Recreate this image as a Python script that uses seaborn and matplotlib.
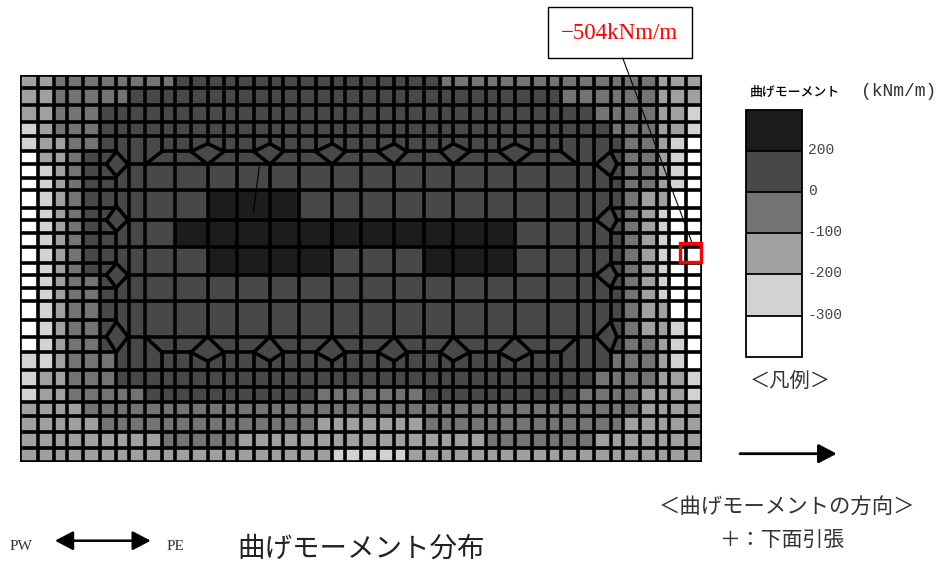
import numpy as np
import matplotlib
matplotlib.use("Agg")
import matplotlib.pyplot as plt
from matplotlib.colors import BoundaryNorm, ListedColormap
from matplotlib.patches import Rectangle
from matplotlib.transforms import ScaledTranslation
import seaborn as sns

W, H = 952, 565
JP = ["Noto Sans CJK JP", "DejaVu Sans"]
LATIN = "Liberation Mono"
MESH_LW = 2.6

# legend classes of the bending moment (kNm/m)
BOUNDS = [-400, -300, -200, -100, 0, 200, 400]
BAND_VALUES = [-350, -250, -150, -50, 100, 300]
BAND_COLORS = ["#ffffff", "#d2d2d2", "#a0a0a0", "#737373", "#484848", "#1c1c1c"]
LEGEND_TICKS = [-300, -200, -100, 0, 200]

# element edges of the slab mesh, read in pixels from the drawing
X_EDGES = [20, 37.7, 54.3, 67.3, 83, 99.7, 116.3, 129.3, 145.3, 162, 175.3, 191, 207.7, 224,
           237.3, 253.7, 270, 283.3, 299, 315.7, 332.3, 345.3, 361, 377.7, 394.3, 407, 423.7,
           440.3, 453.3, 469.7, 486, 498.7, 515, 531.7, 548.3, 561, 577.7, 594.3, 610.7,
           623.3, 640, 656.7, 669.3, 685.7, 702.3]
Y_EDGES = [75, 88.3, 105, 121.7, 135.7, 151.5, 164.3, 177.7, 190.3, 207.7, 220, 233.3, 246.7,
           263.3, 275, 288.3, 301, 320, 336.7, 352.3, 370, 386.7, 402.3, 415.7, 431.7, 448.3,
           461.7]

# class index of each element, one string per row, blocks of ten columns
ROW_BANDS = [
    "2233333333 4444444444 4444444333 3333333333 3222",
    "2233333444 4444444444 4444444444 4444433333 3222",
    "2233344444 4444444444 4444444444 4444444333 3221",
    "1233344444 4444444444 4444444444 4444444433 3221",
    "1223344444 4444444444 4444444444 4444444443 3210",
    "0223444444 4444444444 4444444444 4444444443 3210",
    "0123444444 4444444444 4444444444 4444444443 3210",
    "0123444444 4444444444 4444444444 4444444443 3210",
    "0123444444 4455555544 4444444444 4444444443 2200",
    "0123444444 4455555544 4444444444 4444444443 2100",
    "0123444444 5555555555 5555555555 5544444443 2100",
    "0123444444 5555555555 5555555555 5544444443 2100",
    "0123444444 4455555555 4444445555 5544444443 2100",
    "0123444444 4455555555 4444445555 5544444443 2100",
    "0123344444 4444444444 4444444444 4444444443 2100",
    "0123344444 4444444444 4444444444 4444444443 2100",
    "0123344444 4444444444 4444444444 4444444443 2200",
    "0123344444 4444444444 4444444444 4444444443 2210",
    "0123344444 4444444444 4444444444 4444444443 3210",
    "1123334444 4444444444 4444444444 4444444433 3210",
    "1223334444 4444444444 4444444444 4444444333 3221",
    "1223333344 4444444443 3333334444 4444443333 2221",
    "2222333333 3333333333 3333333333 3333333333 2222",
    "2222233333 3333333332 2222223333 3333333332 2222",
    "2222222223 3333222222 2222222222 3333333222 2222",
    "2222222222 2222222222 1111122222 2222222222 2222",
]

moments = np.array([[BAND_VALUES[int(c)] for c in row.replace(" ", "")] for row in ROW_BANDS])

# mesh lines, in element indices
FULL_COLS = [0, 1, 2, 3, 4, 5, 7, 8, 10, 14, 18, 22, 26, 30, 34, 36, 37, 39, 40, 41, 42, 43, 44]
BAND_COLS = [9, 11, 13, 15, 17, 19, 21, 23, 25, 27, 29, 31, 33, 35]
APEX_COLS = [12, 16, 20, 24, 28, 32]
EDGE_COLS = [6, 38]
EDGE_SPANS = [(0, 5), (6.9, 8.9), (10.85, 13), (14.95, 17.1), (19, 26)]
FULL_ROWS = [0, 1, 2, 3, 4, 8, 12, 16, 20, 21, 22, 23, 24, 25, 26]
SIDE_ROWS = [7, 9, 11, 13, 15, 17]
NODE_ROWS = [6, 10, 14, 18]
SIDE_DIAMONDS = [(5, 6, 6.9), (8.9, 10, 10.85), (13, 14, 14.95), (17.1, 18, 19)]
BAND_SPANS = [(9, 11), (13, 15), (17, 19), (21, 23), (25, 27), (29, 31), (33, 35)]

sns.set_theme(style="white")
plt.rcParams["font.family"] = JP
plt.rcParams["axes.unicode_minus"] = False

fig = plt.figure(figsize=(W / 100, H / 100), dpi=100, facecolor="white")
ax = fig.add_axes([X_EDGES[0] / W, 1 - Y_EDGES[-1] / H,
                   (X_EDGES[-1] - X_EDGES[0]) / W, (Y_EDGES[-1] - Y_EDGES[0]) / H])
cax = fig.add_axes([745.7 / W, 1 - 356.7 / H, 56.6 / W, 246.7 / H])

sns.heatmap(moments, ax=ax, cbar_ax=cax, cmap=ListedColormap(BAND_COLORS),
            norm=BoundaryNorm(BOUNDS, len(BAND_COLORS)), xticklabels=False, yticklabels=False,
            cbar_kws={"ticks": LEGEND_TICKS, "drawedges": True})

# the mesh is not uniform: stretch the index axes onto the element edges
col_idx = np.arange(len(X_EDGES))
row_idx = np.arange(len(Y_EDGES))
ax.set_xscale("function", functions=(lambda v: np.interp(v, col_idx, X_EDGES),
                                     lambda v: np.interp(v, X_EDGES, col_idx)))
ax.set_yscale("function", functions=(lambda v: np.interp(v, row_idx, Y_EDGES),
                                     lambda v: np.interp(v, Y_EDGES, row_idx)))
ax.set_xlim(0, 44)
ax.set_ylim(26, 0)
ax.set_xticks([])
ax.set_yticks([])
ax.minorticks_off()

LINE = dict(color="black", linewidth=MESH_LW, capstyle="projecting", zorder=3)


def vline(col, r0, r1):
    ax.vlines(col, r0, r1, **LINE)


def hline(row, c0, c1):
    ax.hlines(row, c0, c1, **LINE)


def poly(cols, rows):
    ax.plot(cols, rows, color="black", linewidth=MESH_LW, solid_capstyle="round",
            solid_joinstyle="miter", zorder=3)


for c in FULL_COLS:
    vline(c, 0, 26)
for c in BAND_COLS:
    vline(c, 0, 5)
    vline(c, 19, 26)
for c in APEX_COLS:
    vline(c, 0, 4.5)
    vline(c, 6, 18)
    vline(c, 19.5, 26)
for c in EDGE_COLS:
    for r0, r1 in EDGE_SPANS:
        vline(c, r0, r1)

for r in FULL_ROWS:
    hline(r, 0, 44)
for r in SIDE_ROWS:
    hline(r, 0, 6)
    hline(r, 38, 44)
for r in NODE_ROWS:
    hline(r, 0, 5.4)
    hline(r, 6.9, 37.1)
    hline(r, 38.5, 44)
for r in [5, 19]:
    hline(r, 0, 6)
    hline(r, 38, 44)
    for c0, c1 in BAND_SPANS:
        hline(r, c0, c1)

# diamonds round the column heads and the corner haunches
for top, mid, bot in SIDE_DIAMONDS:
    poly([6, 6.9, 6, 5.4, 6], [top, mid, bot, mid, top])
    poly([38, 38.5, 38, 37.1, 38], [top, mid, bot, mid, top])
for c in APEX_COLS:
    poly([c - 1, c, c + 1, c, c - 1], [5, 4.5, 5, 6, 5])
    poly([c - 1, c, c + 1, c, c - 1], [19, 18, 19, 19.5, 19])
poly([9, 8], [5, 6])
poly([35, 36], [5, 6])
poly([8, 9], [18, 19])
poly([36, 35], [18, 19])

# element with the peak value
ax.add_patch(Rectangle((42.63, 11.75), 1.3, 1.2, fill=False, edgecolor="#ff0000", linewidth=2.4,
                       zorder=4, clip_on=False))

# colour legend
cbar = ax.collections[0].colorbar
cbar.outline.set_linewidth(1.3)
cbar.outline.set_edgecolor("black")
cbar.dividers.set_color("black")
cbar.dividers.set_linewidth(1.3)
cbar.ax.tick_params(length=0, pad=4, labelsize=10.5, labelcolor="#444444")
cbar.ax.set_yticklabels([str(t) for t in LEGEND_TICKS], family=LATIN)
cbar.ax.minorticks_off()
lift = ScaledTranslation(0, 2.5 / 100, fig.dpi_scale_trans)
for tick_label in cbar.ax.get_yticklabels():
    tick_label.set_transform(tick_label.get_transform() + lift)

# texts and arrows are placed in page pixels
page = fig.add_axes([0, 0, 1, 1], facecolor="none", zorder=5)
page.set_xlim(0, W)
page.set_ylim(H, 0)
page.axis("off")

page.plot([622.7, 691.7], [58, 242], color="black", linewidth=0.8)
page.plot([259.3, 253.3], [166.7, 213.3], color="black", linewidth=0.8)
page.add_patch(Rectangle((547.7, 7.3), 144, 50.4, facecolor="white", edgecolor="black", linewidth=1))
page.text(619.5, 33.5, "−504kNm/m", color="#ff0000", fontsize=16.5, family="Liberation Serif",
          ha="center", va="center")

page.text(750, 92, "曲げモーメント", fontsize=9.3, color="black", ha="left", va="center",
          fontweight="medium")
page.text(861, 91.5, "(kNm/m)", fontsize=13, color="#333333", family=LATIN, ha="left", va="center")
page.text(790, 381, "\uff1c凡例\uff1e", fontsize=14.6, color="#333333", ha="center", va="center")

ARROW = dict(color="black", shrinkA=0, shrinkB=0, mutation_scale=1)
page.annotate("", xy=(836.7, 453.7), xytext=(740, 453.7),
              arrowprops=dict(arrowstyle="-|>,head_length=11,head_width=5.8", linewidth=2, **ARROW))
page.annotate("", xy=(150.7, 540.7), xytext=(55, 540.7),
              arrowprops=dict(arrowstyle="<|-|>,head_length=11,head_width=5.8", linewidth=1.8, **ARROW))

page.text(787, 507, "\uff1c曲げモーメントの方向\uff1e", fontsize=15.4, color="#333333", ha="center", va="center")
page.text(782, 540, "\uff0b\uff1a下面引張", fontsize=15, color="#333333", ha="center", va="center")
page.text(20.5, 547, "PW", fontsize=11, color="#333333", family="Liberation Serif", ha="center", va="center")
page.text(175.5, 547, "PE", fontsize=11, color="#333333", family="Liberation Serif", ha="center", va="center")
page.text(361, 549.5, "曲げモーメント分布", fontsize=19.8, color="#222222", ha="center", va="center")

fig.savefig("out.png", dpi=100, facecolor="white")
